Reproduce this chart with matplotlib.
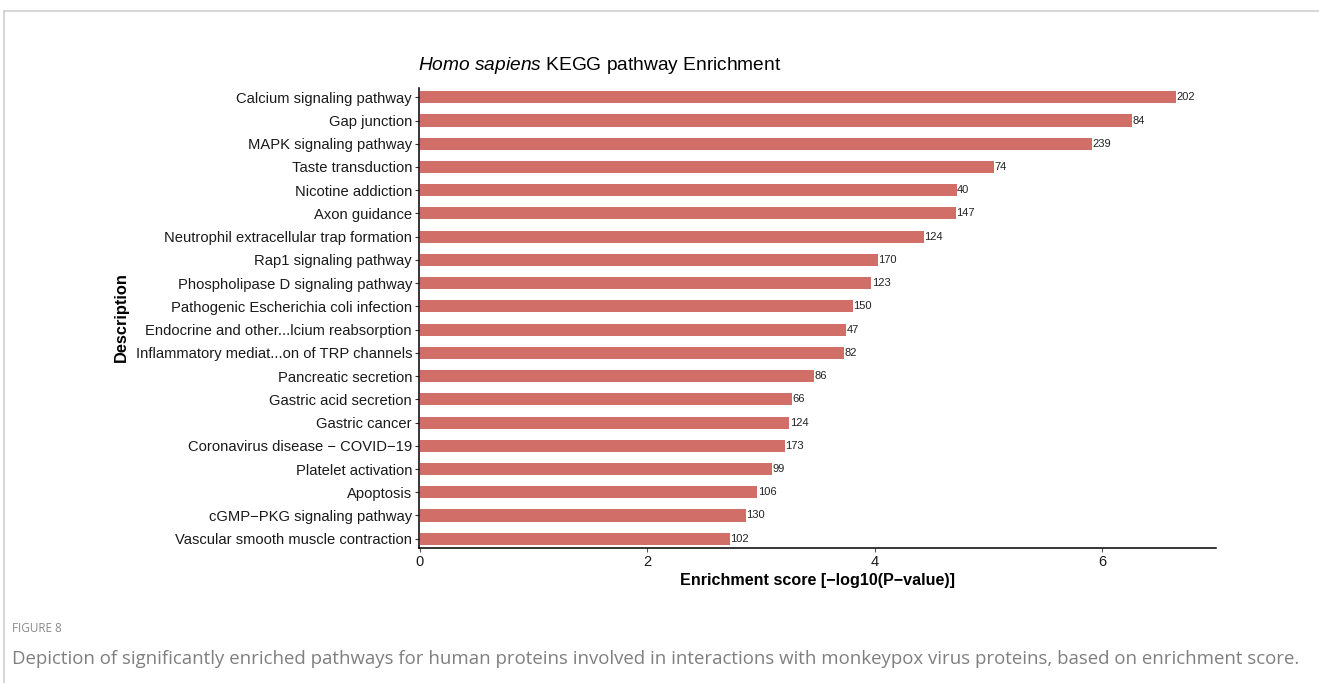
import matplotlib.pyplot as plt
from matplotlib.lines import Line2D

plt.rcParams['font.family'] = ['Liberation Sans', 'DejaVu Sans']
plt.rcParams['mathtext.fontset'] = 'custom'
plt.rcParams['mathtext.it'] = 'Liberation Sans:italic'
plt.rcParams['mathtext.rm'] = 'Liberation Sans'

# KEGG pathways, top to bottom
pathways = [
    "Calcium signaling pathway",
    "Gap junction",
    "MAPK signaling pathway",
    "Taste transduction",
    "Nicotine addiction",
    "Axon guidance",
    "Neutrophil extracellular trap formation",
    "Rap1 signaling pathway",
    "Phospholipase D signaling pathway",
    "Pathogenic Escherichia coli infection",
    "Endocrine and other...lcium reabsorption",
    "Inflammatory mediat...on of TRP channels",
    "Pancreatic secretion",
    "Gastric acid secretion",
    "Gastric cancer",
    "Coronavirus disease \u2212 COVID\u221219",
    "Platelet activation",
    "Apoptosis",
    "cGMP\u2212PKG signaling pathway",
    "Vascular smooth muscle contraction",
]
scores = [6.65, 6.26, 5.91, 5.05, 4.72, 4.715, 4.43, 4.03, 3.97, 3.81,
          3.75, 3.73, 3.47, 3.27, 3.25, 3.21, 3.10, 2.97, 2.87, 2.73]
gene_counts = [202, 84, 239, 74, 40, 147, 124, 170, 123, 150,
               47, 82, 86, 66, 124, 173, 99, 106, 130, 102]

W, H = 1319, 683
fig = plt.figure(figsize=(W / 100, H / 100), dpi=100)

# frame around the figure panel
fig.add_artist(Line2D([4 / W, 1], [1 - 11 / H, 1 - 11 / H], color='#cfcfcf', lw=1.2))
fig.add_artist(Line2D([4 / W, 4 / W], [0, 1 - 11 / H], color='#cfcfcf', lw=1.2))

ax = fig.add_axes([419 / W, 1 - 548 / H, (1216 - 419) / W, (548 - 88) / H])

n = len(pathways)
ypos = list(range(n - 1, -1, -1))
ax.barh(ypos, scores, height=0.52, color='#D16E68')
for y, s, c in zip(ypos, scores, gene_counts):
    ax.text(s + 0.003, y, str(c), va='center', ha='left', fontsize=8, color='#222222')

ax.set_yticks(ypos)
ax.set_yticklabels(pathways, fontsize=10.6, color='#1a1a1a')
ax.set_ylim(-0.4, n - 0.6)
ax.set_xlim(-0.005, 7.0)
ax.set_xticks([0, 2, 4, 6])
ax.set_xticklabels(['0', '2', '4', '6'], fontsize=10.5, color='#1a1a1a')

for side in ['top', 'right']:
    ax.spines[side].set_visible(False)
for side in ['left', 'bottom']:
    ax.spines[side].set_linewidth(1.1)
    ax.spines[side].set_color('black')
ax.tick_params(axis='y', length=3, width=0.8, pad=2, color='#333333')
ax.tick_params(axis='x', length=3, width=0.8, pad=2, color='#555555')

ax.set_xlabel('Enrichment score [\u2212log10(P\u2212value)]', fontsize=11.6, fontweight='bold', labelpad=3)
fig.text(121 / W, 1 - 317 / H, 'Description', rotation=90, fontsize=11.8,
         fontweight='bold', ha='center', va='center')

fig.text(418 / W, 1 - 65 / H, r'$\it{Homo\ sapiens}$ KEGG pathway Enrichment',
         fontsize=13.8, ha='left', va='center')

fig.text(12 / W, 1 - 628 / H, 'FIGURE 8', fontsize=8.5, color='#8a8a8a',
         family=['Open Sans', 'DejaVu Sans'], ha='left', va='center')
fig.text(12 / W, 1 - 659 / H,
         'Depiction of significantly enriched pathways for human proteins involved in '
         'interactions with monkeypox virus proteins, based on enrichment score.',
         fontsize=13.4, color='#7f7f7f', family=['Open Sans', 'DejaVu Sans'],
         ha='left', va='center')

fig.savefig('out.png', dpi=100)
